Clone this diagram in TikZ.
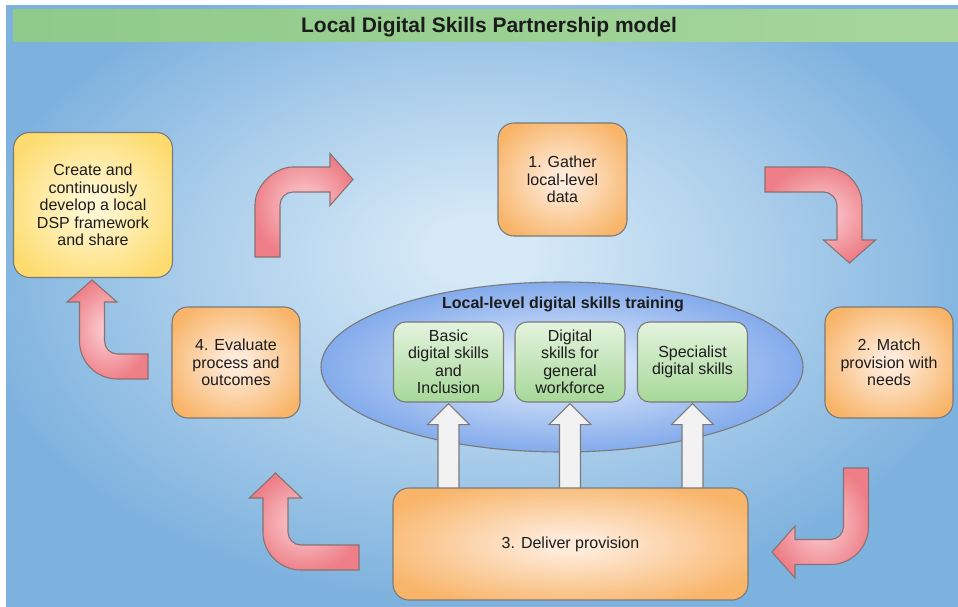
\documentclass[tikz,border=0pt]{standalone}
\usepackage{fontspec}
\setmainfont{Liberation Sans}
\usetikzlibrary{calc,shapes.geometric}
\definecolor{bgin}{HTML}{D4E8F6}
\definecolor{bgmid}{HTML}{A8CCEA}
\definecolor{bgout}{HTML}{7EB2DE}
\definecolor{grL}{HTML}{8FCA8A}
\definecolor{grM}{HTML}{DAF0D4}
\definecolor{grR}{HTML}{A6D69C}
\definecolor{orin}{HTML}{FEEAD8}
\definecolor{orout}{HTML}{F8B468}
\definecolor{yein}{HTML}{FFF7D2}
\definecolor{yeout}{HTML}{FDDB6E}
\definecolor{gtop}{HTML}{E4F3DE}
\definecolor{gbot}{HTML}{A6D898}
\definecolor{elin}{HTML}{DAE7FA}
\definecolor{elout}{HTML}{7BA5EA}
\definecolor{rin}{HTML}{FAC9CD}
\definecolor{rout}{HTML}{EE7F88}
\definecolor{lineg}{HTML}{7A7A7A}
\definecolor{arrl}{HTML}{8A7272}
\definecolor{txt}{HTML}{1C1C1C}
\pgfdeclareradialshading{orshade}{\pgfpointorigin}{color(0bp)=(orin); color(4bp)=(orin); color(30bp)=(orout); color(50bp)=(orout)}
\pgfdeclareradialshading{yeshade}{\pgfpointorigin}{color(0bp)=(yein); color(4bp)=(yein); color(30bp)=(yeout); color(50bp)=(yeout)}
\pgfdeclareradialshading{elshade}{\pgfpointorigin}{color(0bp)=(elin); color(4bp)=(elin); color(27bp)=(elout); color(50bp)=(elout)}
\pgfdeclareradialshading{redshade}{\pgfpointorigin}{color(0bp)=(rin); color(3bp)=(rin); color(26bp)=(rout); color(50bp)=(rout)}
\pgfdeclareradialshading{bgshade}{\pgfpoint{0bp}{5bp}}{color(0bp)=(bgin); color(3bp)=(bgin); color(16bp)=(bgmid); color(27bp)=(bgout); color(50bp)=(bgout)}
\newcommand\dspfont{\fontsize{16}{17.5}\selectfont}
\tikzset{
  panelbox/.style={draw=lineg, line width=1.1pt, rounded corners=16pt, align=center,
    font=\dspfont, text=txt, inner sep=2pt},
  orangebox/.style={panelbox, shading=orshade},
  yellowbox/.style={panelbox, shading=yeshade},
  greenbox/.style={panelbox, rounded corners=12pt, top color=gtop, bottom color=gbot,
    minimum width=110pt, minimum height=80pt},
  redarrow/.style={draw=arrl, line width=1.1pt, shading=redshade},
  whitearrow/.style={draw=lineg, line width=1.1pt, fill=white!95!black},
}
\begin{document}
\begin{tikzpicture}[x=1pt,y=-1pt]
\useasboundingbox (0,0) rectangle (958,607);
\fill[white] (0,0) rectangle (958,607);
% background panel
\shade[shading=bgshade] (6,6) rectangle (958,607);
% title bar
\shade[left color=grL, middle color=grM, right color=grR] (13,10) rectangle (958,42);
\node[font=\bfseries\fontsize{21}{24}\selectfont, text=txt] (title) at (489,27) {Local Digital Skills Partnership model};

% red curved arrows
% create -> 1
\shadedraw[redarrow] (255,257) -- (255,205) .. controls (255,184) and (276,167) .. (293,167)
  -- (330,167) -- (330,153.5) -- (353,179.5) -- (330,205.5) -- (330,192) -- (293,192)
  .. controls (285.8,192) and (280,197.8) .. (280,205) -- (280,257) -- cycle;
% 1 -> 2
\shadedraw[redarrow] (765,167) -- (824,167) .. controls (845,167) and (862,184) .. (862,205)
  -- (862,240) -- (875.5,240) -- (849.5,263) -- (823.5,240) -- (837,240) -- (837,205)
  .. controls (837,197.8) and (829.8,192) .. (824,192) -- (765,192) -- cycle;
% 2 -> 3
\shadedraw[redarrow] (843.5,468) -- (868.5,468) -- (868.5,526.5)
  .. controls (868.5,547.5) and (851.5,564.5) .. (830.5,564.5) -- (795,564.5) -- (795,578)
  -- (772,552) -- (795,526) -- (795,539.5) -- (830.5,539.5)
  .. controls (837.7,539.5) and (843.5,533.7) .. (843.5,526.5) -- cycle;
% 3 -> 4
\shadedraw[redarrow] (359,545) -- (359,570) -- (301,570) .. controls (280,570) and (263,553) .. (263,532)
  -- (263,498) -- (249.5,498) -- (275.5,473) -- (301.5,498) -- (288,498) -- (288,532)
  .. controls (288,539.2) and (293.8,545) .. (301,545) -- cycle;
% 4 -> create
\shadedraw[redarrow] (148,354) -- (148,379) -- (117.5,379) .. controls (96.5,379) and (79.5,362) .. (79.5,341)
  -- (79.5,302) -- (67,302) -- (92,280) -- (117,302) -- (104.5,302) -- (104.5,341)
  .. controls (104.5,348.2) and (110.3,354) .. (117.5,354) -- cycle;

% ellipse
\node[ellipse, draw=lineg, line width=1.1pt, shading=elshade,
  minimum width=482pt, minimum height=170pt, inner sep=0pt] (ell) at (562,367) {};
\node[font=\bfseries\fontsize{16}{18}\selectfont, text=txt] (elltitle) at (563,304) {Local-level digital skills training};

% green boxes
\node[greenbox] (ga) at (448.5,362) {Basic\\digital skills\\and\\Inclusion};
\node[greenbox] (gb) at (570,362) {Digital\\skills for\\general\\workforce};
\node[greenbox] (gc) at (692.5,362) {Specialist\\digital skills};

% main boxes
\node[yellowbox, minimum width=159pt, minimum height=145pt] (create) at (93,205) {Create and\\continuously\\develop a local\\DSP framework\\and share};
\node[orangebox, minimum width=129pt, minimum height=113pt] (b1) at (562.5,179.5) {1. Gather\\local-level\\data};
\node[orangebox, minimum width=128pt, minimum height=111pt] (b2) at (889,362.5) {2. Match\\provision with\\needs};
\node[orangebox, minimum width=128pt, minimum height=111pt] (b4) at (236,362.5) {4. Evaluate\\process and\\outcomes};

% white arrows (drawn before box 3 so the box covers their base)
\foreach \g in {ga,gb,gc}{
  \filldraw[whitearrow] ($(\g.south|-0,492)+(-10.5,0)$) -- ($(\g.south)+(-10.5,22)$)
    -- ($(\g.south)+(-21,22)$) -- ($(\g.south)+(0,1)$) -- ($(\g.south)+(21,22)$)
    -- ($(\g.south)+(10.5,22)$) -- ($(\g.south|-0,492)+(10.5,0)$) -- cycle;
}
\node[orangebox, minimum width=355pt, minimum height=112pt] (b3) at (570.5,544) {3. Deliver provision};
\end{tikzpicture}
\end{document}
